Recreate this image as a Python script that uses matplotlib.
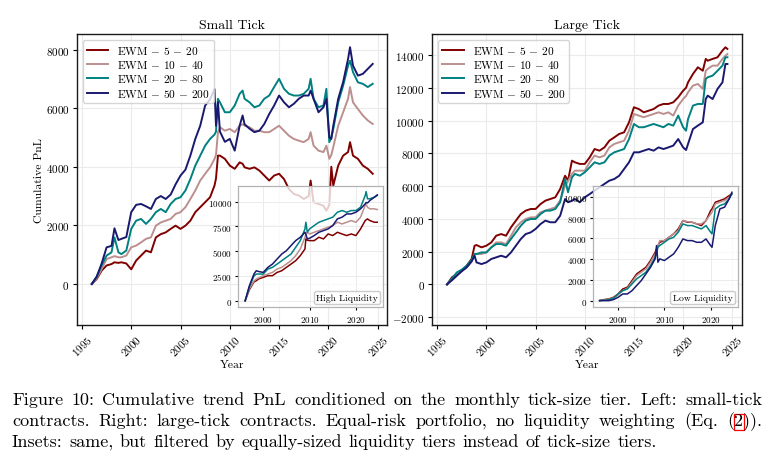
import numpy as np
import matplotlib
matplotlib.use("Agg")
import matplotlib.pyplot as plt
from matplotlib.offsetbox import AnchoredText
from matplotlib.patches import Rectangle

plt.rcParams['font.family'] = 'cmr10'
plt.rcParams['mathtext.fontset'] = 'cm'
plt.rcParams['axes.formatter.use_mathtext'] = True

labels = [r'EWM $-$ 5 $-$ 20', r'EWM $-$ 10 $-$ 40', r'EWM $-$ 20 $-$ 80', r'EWM $-$ 50 $-$ 200']
colors = ['#800000', '#BC8F8F', '#008080', '#191970']

# ---- Small tick, main panel
small_yr = [1996.0, 1996.5, 1997.0, 1997.5, 1998.0, 1998.3, 1998.7, 1999.0, 1999.5, 2000.0,
            2000.5, 2001.0, 2001.5, 2002.0, 2002.5, 2003.0, 2003.5, 2004.0, 2004.5, 2005.0,
            2005.5, 2006.0, 2006.5, 2007.0, 2007.5, 2008.0, 2008.45, 2008.6, 2008.8, 2009.0,
            2009.5, 2010.0, 2010.5, 2011.0, 2011.3, 2011.5, 2012.0, 2012.5, 2013.0, 2013.5,
            2014.0, 2014.5, 2015.0, 2015.5, 2016.0, 2016.5, 2017.0, 2017.5, 2018.0, 2018.2,
            2018.5, 2019.0, 2019.5, 2019.8, 2020.1, 2020.3, 2020.5, 2021.0, 2021.5, 2022.0,
            2022.2, 2022.5, 2023.0, 2023.5, 2024.0, 2024.5]
small_5_20 = [0, 170, 455, 630, 680, 740, 720, 740, 700, 500,
              800, 970, 1140, 1080, 1590, 1700, 1760, 1880, 1990, 1880,
              1990, 2160, 2450, 2620, 2790, 2960, 3360, 3600, 4380, 4380,
              4270, 4040, 3930, 4150, 4100, 3980, 3930, 3980, 3870, 3700,
              3530, 3700, 3760, 3580, 3240, 3070, 3020, 2900, 3000, 3530,
              2790, 2730, 2670, 2500, 2700, 4000, 3360, 4040, 4380, 4500,
              4840, 4380, 4270, 4040, 3930, 3760]
small_10_40 = [0, 200, 510, 850, 910, 950, 910, 910, 970, 1250,
               1310, 1420, 1540, 1590, 1990, 2100, 2160, 2220, 2390, 2450,
               2620, 2900, 3190, 3530, 3760, 3980, 4270, 4400, 5180, 5350,
               5230, 5290, 5180, 5400, 5450, 5400, 5350, 5230, 5230, 5180,
               5180, 5290, 5400, 5230, 5060, 4950, 4890, 4840, 4950, 5180,
               4720, 4550, 4500, 4720, 4270, 4400, 4670, 5400, 5860, 6320,
               6720, 6200, 5970, 5750, 5580, 5460]
small_20_80 = [0, 250, 630, 970, 1080, 1590, 1080, 1020, 1140, 1880,
               2160, 2220, 2050, 2220, 2450, 2560, 2450, 2730, 2900, 2960,
               3190, 3580, 4040, 4380, 4720, 4950, 5100, 5200, 6320, 6200,
               5860, 5860, 6090, 6490, 6600, 6320, 6200, 6030, 6090, 6320,
               6430, 6720, 7000, 6660, 6490, 6430, 6430, 6490, 6660, 7000,
               6320, 6030, 6090, 6660, 4840, 5000, 5290, 6200, 6770, 7450,
               7620, 7230, 6880, 6830, 6720, 6830]
small_50_200 = [0, 250, 700, 1250, 1300, 1900, 1500, 1540, 1600, 2450,
                2700, 2730, 2650, 2560, 2900, 3000, 2900, 3050, 3400, 3700,
                3900, 4380, 4950, 5400, 6090, 6300, 6650, 5400, 6200, 5200,
                4850, 4950, 4550, 5400, 5750, 5450, 5300, 5180, 5230, 5460,
                5800, 6090, 6430, 6200, 6030, 6150, 6320, 6430, 6430, 6600,
                6320, 5860, 6030, 6320, 5000, 4950, 5400, 6320, 6890, 7680,
                8080, 7450, 7110, 7170, 7340, 7510]

# ---- Small tick, inset (high liquidity)
high_yr = [1996.1, 1997, 1998, 1998.5, 1999, 2000, 2001, 2002, 2003, 2004,
           2005, 2006, 2007, 2008, 2009, 2009.2, 2009.5, 2010, 2011, 2012,
           2013, 2014, 2015, 2016, 2017, 2018, 2019, 2020, 2021, 2022,
           2022.2, 2022.5, 2023, 2024, 2024.6]
high_5_20 = [0, 1100, 1900, 2020, 2200, 2360, 2530, 2530, 2860, 3030,
             3370, 3700, 4040, 4550, 5220, 6230, 6100, 6060, 6060, 6400,
             6230, 6730, 6570, 6900, 6730, 6570, 6730, 6570, 7240, 8080,
             8150, 8250, 8080, 7910, 7910]
high_10_40 = [0, 1200, 2000, 2190, 2300, 2530, 2690, 2860, 3200, 3370,
              3700, 4040, 4550, 5220, 6400, 6700, 6900, 6730, 6900, 7070,
              7240, 7410, 7580, 7910, 7740, 7910, 8080, 7910, 8420, 9600,
              9700, 9430, 9260, 9260, 9190]
high_20_80 = [0, 1400, 2500, 2690, 2700, 2690, 3200, 3370, 3700, 4040,
              4380, 4710, 5390, 6060, 7240, 7910, 6900, 7240, 7580, 7910,
              8080, 8250, 8420, 8920, 9090, 8920, 9090, 9090, 9430, 10600,
              11000, 10270, 10270, 10440, 10600]
high_50_200 = [0, 1500, 2700, 3030, 2950, 2860, 3370, 3700, 4210, 4710,
               5050, 5560, 6060, 6400, 6900, 6700, 6230, 6300, 6570, 6900,
               7070, 7240, 7580, 8250, 8420, 8750, 8750, 8920, 9260, 9760,
               9900, 9850, 10100, 10440, 10670]

# ---- Large tick, main panel
large_yr = [1996.0, 1996.5, 1997.0, 1997.5, 1998.0, 1998.5, 1998.8, 1999.0, 1999.5, 2000.0,
            2000.5, 2001.0, 2001.5, 2002.0, 2002.5, 2003.0, 2003.5, 2004.0, 2004.5, 2005.0,
            2005.5, 2006.0, 2006.5, 2007.0, 2007.5, 2008.0, 2008.3, 2008.7, 2009.0, 2009.5,
            2010.0, 2010.5, 2011.0, 2011.5, 2012.0, 2012.5, 2013.0, 2013.5, 2014.0, 2014.5,
            2015.0, 2015.5, 2016.0, 2016.5, 2017.0, 2017.5, 2018.0, 2018.5, 2019.0, 2019.5,
            2020.0, 2020.3, 2020.5, 2021.0, 2021.5, 2022.0, 2022.3, 2022.5, 2023.0, 2023.5,
            2024.0, 2024.3, 2024.5]
large_5_20 = [0, 430, 630, 830, 1140, 1550, 2360, 2400, 2260, 2360,
              2560, 2970, 3070, 2970, 3480, 3890, 4290, 4500, 4600, 4600,
              4900, 5110, 5210, 5310, 5820, 6630, 6330, 7550, 7450, 7350,
              7350, 7750, 8260, 8160, 8360, 8770, 8970, 9180, 9280, 9890,
              10810, 10700, 10500, 10600, 10700, 10910, 11010, 11010, 11110, 11420,
              11820, 12000, 12330, 12840, 13250, 13040, 13760, 13650, 13760, 13860,
              14270, 14470, 14370]
large_10_40 = [0, 330, 630, 830, 1040, 1400, 1850, 1850, 1850, 1950,
               2260, 2560, 2560, 2460, 2970, 3480, 3790, 3990, 4090, 4090,
               4400, 4500, 4600, 4700, 5110, 6020, 6300, 6740, 6940, 6940,
               6940, 7450, 7860, 7750, 7860, 8360, 8570, 8670, 8770, 9380,
               10400, 10300, 10200, 10300, 10400, 10500, 10400, 10500, 10300, 10910,
               11310, 11500, 11720, 12130, 12230, 11930, 13040, 13150, 13350, 13350,
               13760, 13950, 14060]
large_20_80 = [0, 350, 730, 900, 1140, 1500, 1850, 1850, 1950, 1950,
               2260, 2460, 2460, 2360, 2770, 3170, 3580, 3890, 3990, 3990,
               4290, 4500, 4500, 4600, 5010, 6430, 5620, 6530, 6740, 6630,
               6840, 7140, 7450, 7350, 7450, 7860, 8060, 8160, 8260, 8870,
               9790, 9590, 9590, 9690, 9790, 9690, 9590, 9790, 9690, 10300,
               9590, 9380, 10090, 10910, 11010, 11010, 12540, 12640, 12740, 13040,
               13350, 13860, 13860]
large_50_200 = [0, 250, 530, 800, 1040, 1400, 1750, 1340, 1240, 1340,
                1550, 1650, 1750, 1650, 1950, 2360, 2770, 3070, 3170, 3380,
                3680, 3890, 3790, 3790, 4190, 5210, 5010, 5100, 5210, 5010,
                5310, 5510, 5720, 5920, 6130, 6330, 6430, 6630, 7040, 7450,
                8060, 8060, 8160, 8260, 8160, 8360, 8260, 8360, 8470, 8870,
                8360, 8200, 8570, 9480, 9690, 9890, 11310, 11520, 11310, 11930,
                12330, 13450, 13450]

# ---- Large tick, inset (low liquidity)
low_yr = [1996, 1997, 1998, 1999, 2000, 2001, 2002, 2003, 2004, 2005,
          2006, 2007, 2008, 2008.3, 2008.6, 2009, 2010, 2011, 2012, 2013,
          2014, 2015, 2016, 2017, 2018, 2019, 2020, 2020.3, 2021, 2022,
          2023, 2024, 2024.6]
low_5_20 = [0, 100, 160, 320, 640, 1120, 1290, 1930, 2570, 2890,
            3210, 3860, 4660, 4980, 5300, 5620, 5780, 6100, 6430, 6910,
            7710, 7550, 7550, 7390, 7230, 7710, 8680, 8840, 9480, 9640,
            9800, 10120, 10280]
low_10_40 = [0, 60, 130, 260, 550, 960, 1190, 1770, 2410, 2730,
             3050, 3700, 4500, 4820, 5300, 5780, 5780, 6100, 6430, 6750,
             7710, 7610, 7550, 7390, 7390, 7710, 8350, 8510, 9320, 9480,
             9640, 9960, 10280]
low_20_80 = [0, 30, 100, 220, 640, 960, 1120, 1610, 2090, 2410,
             2730, 3370, 4180, 4500, 5140, 5300, 5620, 5940, 6100, 6590,
             7390, 7230, 7230, 7070, 6910, 7230, 6590, 6430, 8840, 9160,
             9320, 9800, 10280]
low_50_200 = [0, 0, 0, 100, 320, 640, 640, 960, 1450, 1930,
              2570, 3210, 4020, 5300, 3700, 4020, 3860, 4180, 4500, 5140,
              5940, 5780, 5780, 5620, 5620, 5940, 5300, 5140, 7230, 8840,
              9000, 9800, 10440]


def draw_panel(ax, title, yr, series, ylim, yticks, in_yr, in_series, in_ylim, in_yticks, in_label):
    for vals, c, lab in zip(series, colors, labels):
        ax.plot(yr, vals, color=c, lw=1.4, label=lab)
    ax.set_xlim(1994.5, 2025.95)
    ax.set_ylim(*ylim)
    ax.set_xticks(range(1995, 2026, 5))
    ax.set_yticks(yticks)
    ax.tick_params(axis='x', rotation=45, labelsize=8, length=3, pad=2.5)
    ax.tick_params(axis='y', labelsize=8, length=3, pad=2.5)
    ax.grid(color='0.92', lw=0.8)
    ax.set_axisbelow(True)
    for s in ax.spines.values():
        s.set_color('0.1')
        s.set_linewidth(1.0)
    ax.set_title(title, fontsize=10, pad=4)
    ax.set_xlabel('Year', fontsize=8.4, labelpad=1)
    ax.legend(loc='upper left', fontsize=8.2, framealpha=0.8, edgecolor='0.8',
              handlelength=1.9, labelspacing=0.2, borderpad=0.35, handletextpad=0.8)

    ins = ax.inset_axes([0.52, 0.061, 0.468, 0.418])
    ins.patch.set_alpha(0.8)
    for vals, c in zip(in_series, colors):
        ins.plot(in_yr, vals, color=c, lw=1.1)
    ins.set_xlim(1994.6, 2025.9)
    ins.set_ylim(*in_ylim)
    ins.set_xticks([2000, 2010, 2020])
    ins.set_yticks(in_yticks)
    ins.tick_params(labelsize=6.5, length=2.5, pad=2)
    ins.grid(color='0.92', lw=0.7)
    ins.set_axisbelow(True)
    for s in ins.spines.values():
        s.set_color('0.7')
        s.set_linewidth(0.9)
    at = AnchoredText(in_label, loc='lower right', prop=dict(size=7), frameon=True,
                      pad=0.25, borderpad=0.3)
    at.patch.set_boxstyle('round,pad=0.,rounding_size=0.25')
    at.patch.set_edgecolor('0.75')
    at.patch.set_alpha(0.8)
    ins.add_artist(at)


W, H = 774, 460
fig = plt.figure(figsize=(W / 100, H / 100), dpi=100)
ax1 = fig.add_axes([0.0995, 0.2913, 0.4005, 0.6326])
ax2 = fig.add_axes([0.5585, 0.2913, 0.3997, 0.6326])

draw_panel(ax1, 'Small Tick', small_yr, [small_5_20, small_10_40, small_20_80, small_50_200],
           (-1400, 8530), [0, 2000, 4000, 6000, 8000],
           high_yr, [high_5_20, high_10_40, high_20_80, high_50_200],
           (-650, 11600), [0, 2500, 5000, 7500, 10000], 'High Liquidity')
draw_panel(ax2, 'Large Tick', large_yr, [large_5_20, large_10_40, large_20_80, large_50_200],
           (-2480, 15280), list(range(-2000, 14001, 2000)),
           low_yr, [low_5_20, low_10_40, low_20_80, low_50_200],
           (-640, 11080), list(range(0, 10001, 2000)), 'Low Liquidity')
ax1.set_ylabel('Cumulative PnL', fontsize=8.4, labelpad=1)

# ---- caption, justified like the LaTeX source
renderer = fig.canvas.get_renderer()
cap_fs = 13.0


def text_w(s):
    t = fig.text(0, 0, s, fontsize=cap_fs)
    w = t.get_window_extent(renderer).width
    t.remove()
    return w


def cap_line(text, y_px, x0=12, x1=762, justify=True):
    words = text.split()
    ws = [text_w(w) for w in words]
    if justify:
        gap = (x1 - x0 - sum(ws)) / (len(words) - 1)
    else:
        gap = text_w('a a') - text_w('aa') + 0.5
    x = x0
    pos = []
    for w, wd in zip(words, ws):
        fig.text(x / W, 1 - y_px / H, w, fontsize=cap_fs, va='baseline', ha='left')
        pos.append(x)
        x += wd + gap
    return words, pos


cap_line('Figure 10: Cumulative trend PnL conditioned on the monthly tick-size tier. Left: small-tick', 405)
words, pos = cap_line('contracts. Right: large-tick contracts. Equal-risk portfolio, no liquidity weighting (Eq. (2)).', 426)
cap_line('Insets: same, but filtered by equally-sized liquidity tiers instead of tick-size tiers.', 447, justify=False)

# hyperref box round the equation number
x2 = pos[-1] + text_w('(')
w2 = text_w('2')
fig.patches.append(Rectangle(((x2 - 0.5) / W, 1 - 430.5 / H), (w2 + 1) / W, 15.5 / H,
                             transform=fig.transFigure, fill=False, edgecolor='red', lw=0.9))

fig.savefig('out.png', dpi=100, facecolor='white')
